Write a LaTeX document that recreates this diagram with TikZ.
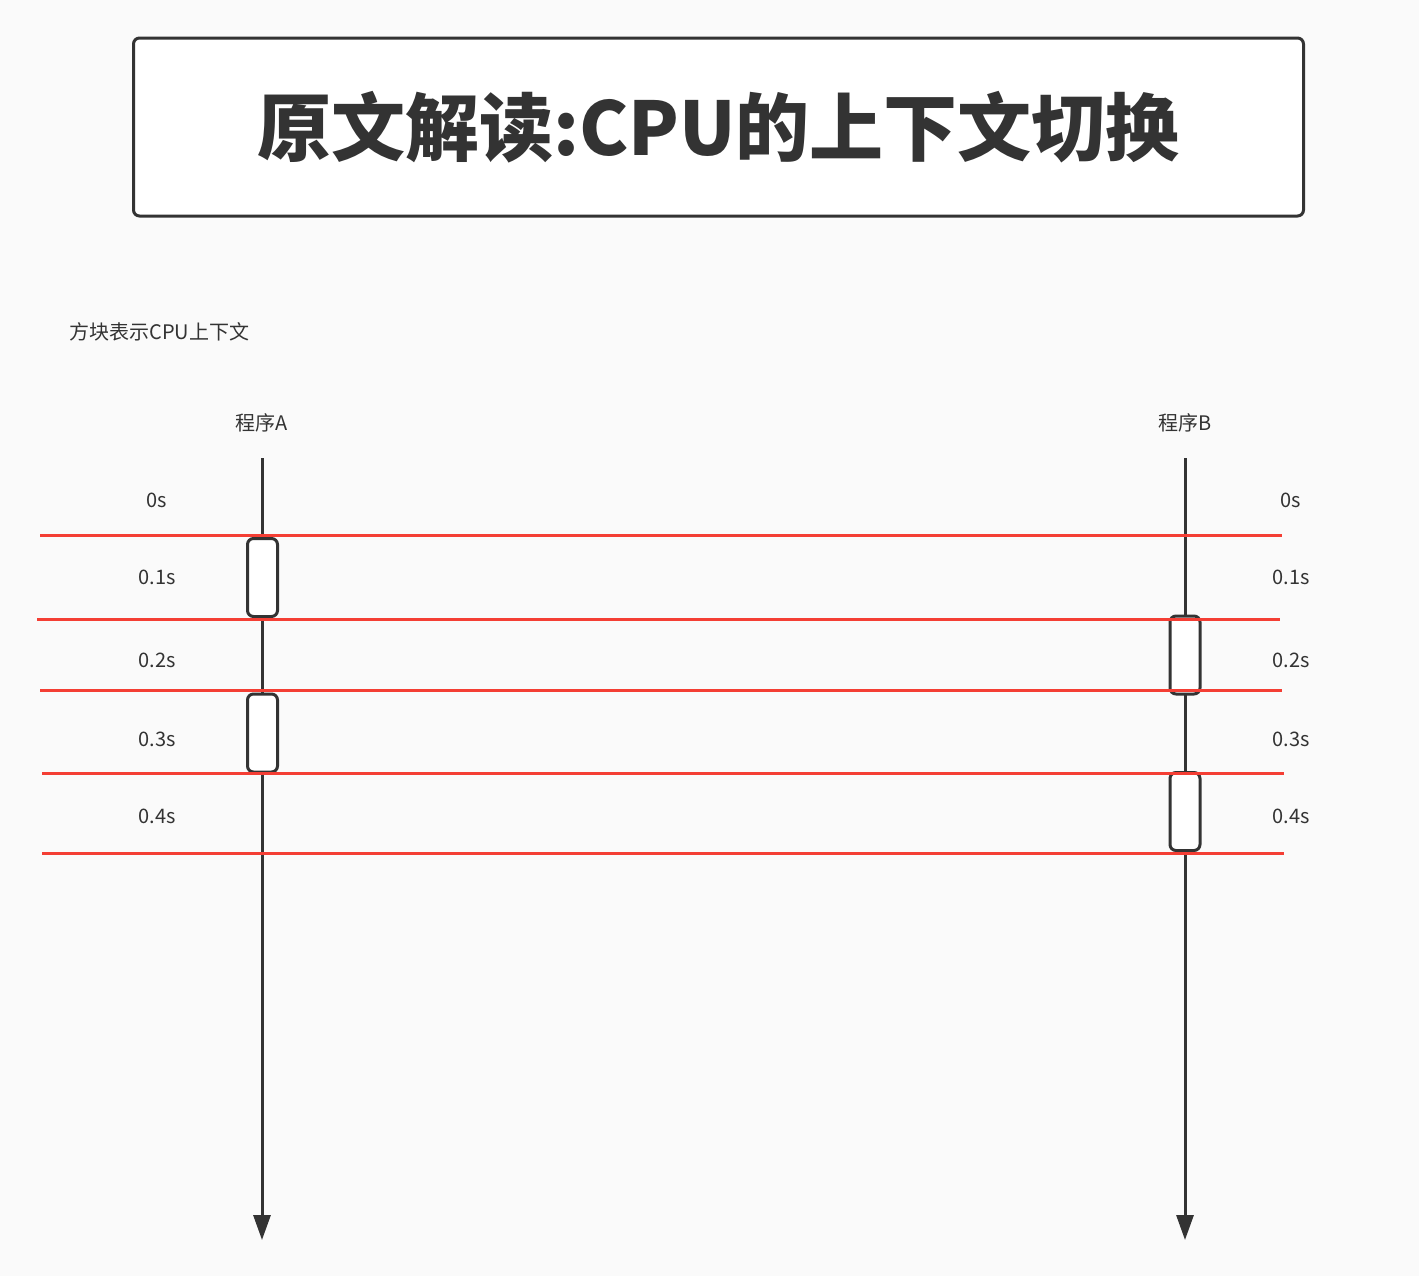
\documentclass[tikz,border=0pt]{standalone}
\usepackage{fontspec}
\setmainfont{Noto Sans CJK SC}
\newfontfamily\cjk{Noto Sans CJK SC}
\usetikzlibrary{arrows.meta}
\definecolor{bg}{RGB}{250,250,250}
\definecolor{ink}{RGB}{51,51,51}
\definecolor{redline}{RGB}{244,62,52}
\begin{document}
\begin{tikzpicture}[x=0.5pt,y=-0.5pt,
  txt/.style={text=ink,font=\fontsize{10pt}{12pt}\selectfont\cjk,inner sep=0pt},
  lifeline/.style={draw=ink,line width=1.5pt,-{Triangle[width=8.5pt,length=12.5pt]}},
  ctxbox/.style={draw=ink,fill=white,line width=1.5pt,rounded corners=3pt,minimum width=15pt,minimum height=39pt,inner sep=0pt},
  tline/.style={draw=redline,line width=1.5pt}]
\path[fill=bg] (0,0) rectangle (1419,1276);
% title
\node[draw=ink,fill=white,line width=1.5pt,rounded corners=3pt,minimum width=585pt,minimum height=89pt,inner sep=0pt,text=ink,font=\fontsize{37pt}{44pt}\selectfont\cjk\bfseries] (title) at (718.5,127) {\raisebox{-2pt}{原文解读:CPU的上下文切换}};
\node[txt,anchor=west] (legend) at (69,332) {方块表示CPU上下文};
\node[txt] (progA) at (262,423) {程序A};
\node[txt] (progB) at (1185,423) {程序B};
% lifelines
\coordinate (a0) at (262,458);
\coordinate (a1) at (262,1240);
\coordinate (b0) at (1185,458);
\coordinate (b1) at (1185,1240);
\draw[lifeline] (a0) -- (a1);
\draw[lifeline] (b0) -- (b1);
% context boxes
\node[ctxbox] (boxA1) at (262.5,577.5) {};
\node[ctxbox] (boxB1) at (1185,655) {};
\node[ctxbox] (boxA2) at (262.5,733) {};
\node[ctxbox] (boxB2) at (1185,811.5) {};
% time lines
\coordinate (l1s) at (40,535);  \coordinate (l1e) at (1282,535);
\coordinate (l2s) at (37,619);  \coordinate (l2e) at (1280,619);
\coordinate (l3s) at (40,690);  \coordinate (l3e) at (1282,690);
\coordinate (l4s) at (42,773);  \coordinate (l4e) at (1284,773);
\coordinate (l5s) at (42,853);  \coordinate (l5e) at (1284,853);
\draw[tline] (l1s) -- (l1e);
\draw[tline] (l2s) -- (l2e);
\draw[tline] (l3s) -- (l3e);
\draw[tline] (l4s) -- (l4e);
\draw[tline] (l5s) -- (l5e);
% time labels
\node[txt] (tA0) at (157,500) {0s};
\node[txt] (tA1) at (157,577) {0.1s};
\node[txt] (tA2) at (157,660) {0.2s};
\node[txt] (tA3) at (157,739) {0.3s};
\node[txt] (tA4) at (157,816) {0.4s};
\node[txt] (tB0) at (1291,500) {0s};
\node[txt] (tB1) at (1291,577) {0.1s};
\node[txt] (tB2) at (1291,660) {0.2s};
\node[txt] (tB3) at (1291,739) {0.3s};
\node[txt] (tB4) at (1291,816) {0.4s};
\end{tikzpicture}
\end{document}
